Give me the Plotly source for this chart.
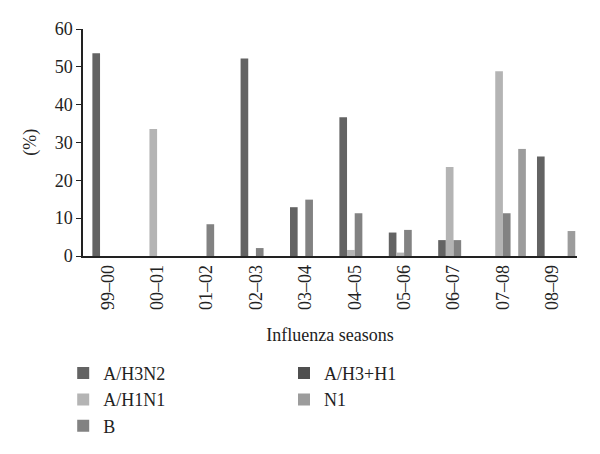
import plotly.graph_objects as go

# Influenza seasons and share (%) of each virus type
seasons = ['99–00', '00–01', '01–02', '02–03', '03–04',
           '04–05', '05–06', '06–07', '07–08', '08–09']
h3n2 = [53.6, 0, 0, 52.2, 12.9, 36.7, 6.2, 4.2, 0, 26.3]
h1n1 = [0, 33.6, 0, 0, 0, 1.6, 0.9, 23.5, 48.8, 0]
b_type = [0, 0, 8.4, 2.1, 14.9, 11.3, 6.9, 4.2, 11.3, 0]
h3_h1 = [0, 0, 0, 0, 0, 0, 0, 0, 0, 0]
n1 = [0, 0, 0, 0, 0, 0, 0, 0, 28.3, 6.6]

FONT = 'Liberation Serif, Times New Roman, serif'

series = [
    ('A/H3N2', h3n2, '#636363', 'legend'),
    ('A/H1N1', h1n1, '#b4b4b4', 'legend'),
    ('B', b_type, '#828282', 'legend'),
    ('A/H3+H1', h3_h1, '#4f4f4f', 'legend2'),
    ('N1', n1, '#9c9c9c', 'legend2'),
]

bar_w = 0.155
first_offset = -0.31

fig = go.Figure()
for i, (name, vals, color, leg) in enumerate(series):
    fig.add_trace(go.Bar(
        x=seasons,
        y=vals,
        name=name,
        marker_color=color,
        marker_line_width=0,
        width=bar_w,
        offset=first_offset + i * bar_w,
        legend=leg,
    ))

legend_style = dict(
    orientation='v',
    xref='container',
    yref='container',
    xanchor='left',
    yanchor='top',
    font=dict(family=FONT, size=18, color='#222'),
    bgcolor='rgba(0,0,0,0)',
    tracegroupgap=0,
    itemwidth=30,
)

# y-axis title as an annotation (standoff misplaces it with fixed margins)
fig.add_annotation(
    text='(%)',
    xref='paper', yref='paper',
    x=-0.107, y=0.5,
    xanchor='center', yanchor='middle',
    textangle=-90,
    showarrow=False,
    font=dict(family=FONT, size=18, color='#222'),
)

# the page body adds an 8px margin, so the margins below are shifted to match
fig.update_layout(
    width=600,
    height=454,
    barmode='overlay',
    plot_bgcolor='white',
    paper_bgcolor='white',
    font=dict(family=FONT, size=18, color='#222'),
    margin=dict(l=75, r=31, t=21, b=206, autoexpand=False),
    showlegend=True,
    legend=dict(x=0.092, y=0.236, **legend_style),
    legend2=dict(x=0.46, y=0.236, **legend_style),
    xaxis=dict(
        type='category',
        tickangle=-90,
        showline=True,
        linecolor='#222',
        linewidth=1.5,
        ticks='',
        showgrid=False,
        tickfont=dict(family=FONT, size=18),
        title=dict(text='Influenza seasons', font=dict(family=FONT, size=18), standoff=19),
        range=[-0.5, 9.5],
    ),
    yaxis=dict(
        range=[0, 60],
        dtick=10,
        showline=True,
        linecolor='#222',
        linewidth=1.5,
        ticks='outside',
        ticklen=5,
        tickcolor='#222',
        showgrid=False,
        zeroline=False,
        tickfont=dict(family=FONT, size=18),
    ),
)

fig.write_html("out.html")
